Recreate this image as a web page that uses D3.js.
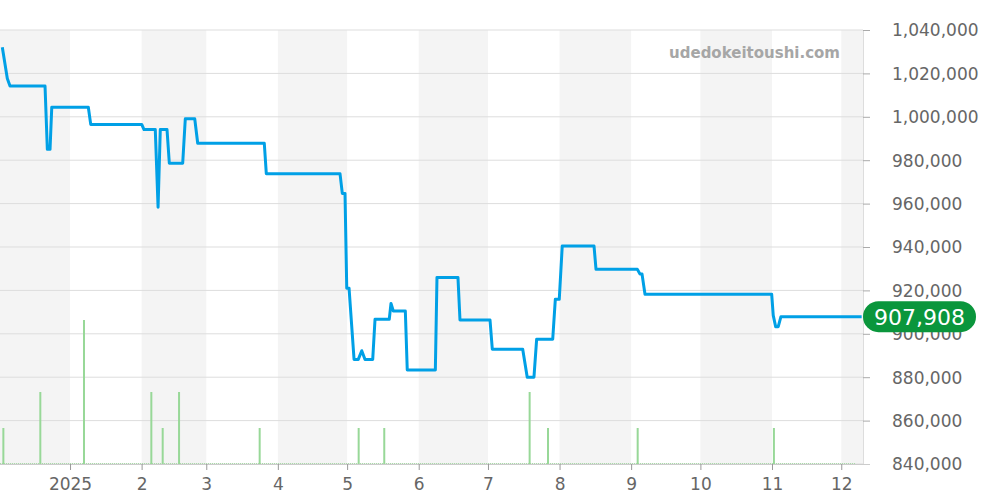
<!DOCTYPE html>
<html><head><meta charset="utf-8">
<script src="https://cdn.jsdelivr.net/npm/d3@7"></script>
<style>body{margin:0;background:#fff}svg{display:block;font-family:"DejaVu Sans",sans-serif}</style>
</head><body><svg id="c" width="1000" height="500"></svg>
<script>
// price series (date-hour, price JPY)
const priceDates = ["2024-12-02T16","2024-12-04T20","2024-12-06T00","2024-12-21T04","2024-12-22T04","2024-12-23T08","2024-12-24T02","2025-01-08T22","2025-01-09T23","2025-02-01T01","2025-02-02T01","2025-02-06T22","2025-02-08T03","2025-02-09T02","2025-02-12T00","2025-02-13T00","2025-02-18T19","2025-02-19T22","2025-02-24T00","2025-02-25T07","2025-03-26T03","2025-03-27T00","2025-04-27T22","2025-04-28T22","2025-04-30T02","2025-04-30T20","2025-05-01T20","2025-05-04T00","2025-05-05T20","2025-05-07T08","2025-05-08T18","2025-05-12T02","2025-05-13T02","2025-05-19T06","2025-05-20T00","2025-05-21T00","2025-05-26T05","2025-05-27T01","2025-06-08T05","2025-06-08T22","2025-06-18T00","2025-06-18T21","2025-07-01T21","2025-07-02T21","2025-07-16T01","2025-07-18T00","2025-07-20T22","2025-07-22T02","2025-07-29T01","2025-07-30T04","2025-07-31T21","2025-08-02T04","2025-08-15T22","2025-08-16T19","2025-09-03T16","2025-09-04T20","2025-09-05T17","2025-09-07T00","2025-10-31T21","2025-11-01T13","2025-11-02T14","2025-11-03T17","2025-11-04T21","2025-12-09T20"];
const priceValues = [1032000,1017700,1014200,1014200,985000,985000,1004400,1004400,996500,996500,994100,994100,958300,994100,994100,978600,978600,999100,999100,987800,987800,973800,973800,964700,964700,921000,921000,888200,888200,892200,888200,888200,906700,906700,914000,910500,910500,883300,883300,926000,926000,906400,906400,892900,892900,880000,880000,897500,897500,915900,915900,940500,940500,929700,929700,927600,927600,918200,918200,908500,903300,903300,907908,907908];
// listing counts
const volDates = ["2024-12-03T03","2024-12-19T03","2025-01-07T01","2025-02-05T05","2025-02-10T03","2025-02-17T05","2025-03-24T03","2025-05-06T00","2025-05-17T02","2025-07-19T01","2025-07-27T00","2025-09-03T20","2025-11-01T20"];
const volValues = [1,2,4,2,1,2,1,1,1,2,1,1,1];
const yTicks = [840000,860000,880000,900000,920000,940000,960000,980000,1000000,1020000,1040000];
const monthTicks = ["2025-01-01T00","2025-02-01T00","2025-03-01T00","2025-04-01T00","2025-05-01T00","2025-06-01T00","2025-07-01T00","2025-08-01T00","2025-09-01T00","2025-10-01T00","2025-11-01T00","2025-12-01T00"];
const monthLabels = ["2025","2","3","4","5","6","7","8","9","10","11","12"];
const lastPrice = 907908;

const parse = d3.timeParse("%Y-%m-%dT%H");
const FONT = "'DejaVu Sans', sans-serif";
const svg = d3.select("#c");
const L = 0, R = 863, T = 30, B = 464;
const x = d3.scaleTime().domain([new Date(2024,11,1,16), new Date(2025,11,10,10)]).range([L, R]);
const y = d3.scaleLinear().domain([840000, 1040000]).range([B, T]);
const yv = d3.scaleLinear().domain([0, 4]).range([B, B - 144]);

// alternating month bands
const bandStarts = [new Date(2024,11,1),new Date(2025,1,1),new Date(2025,3,1),new Date(2025,5,1),new Date(2025,7,1),new Date(2025,9,1),new Date(2025,11,1)];
svg.append("g").selectAll("rect").data(bandStarts).join("rect")
  .attr("x", d => Math.max(L, x(d)))
  .attr("width", d => Math.min(R, x(d3.timeMonth.offset(d,1))) - Math.max(L, x(d)))
  .attr("y", T).attr("height", B - T).attr("fill", "#f4f4f4");

// gridlines
svg.append("g").selectAll("line").data(yTicks).join("line")
  .attr("x1", L).attr("x2", R).attr("y1", d => y(d)).attr("y2", d => y(d))
  .attr("stroke", "#dddddd").attr("stroke-width", 1);

// right axis
const yAxis = d3.axisRight(y).tickValues(yTicks).tickSize(7).tickPadding(22).tickFormat(d3.format(","));
const ya = svg.append("g").attr("transform", `translate(${R},0)`).call(yAxis)
  .attr("font-family", FONT).attr("font-size", 17);
ya.select(".domain").attr("stroke", "#dddddd");
ya.selectAll(".tick line").attr("stroke", "#aaaaaa");
ya.selectAll("text").attr("fill", "#666").attr("dy", "0.35em");

// bottom axis
const xAxis = d3.axisBottom(x).tickValues(monthTicks.map(parse)).tickSize(6).tickPadding(8).tickFormat((d,i) => monthLabels[i]);
const xa = svg.append("g").attr("transform", `translate(0,${B})`).call(xAxis)
  .attr("font-family", FONT).attr("font-size", 17);
xa.select(".domain").attr("stroke", "#cccccc").attr("d", `M${L},0.5H${R+7}`);
xa.selectAll(".tick line").attr("stroke", "#999");
xa.selectAll("text").attr("fill", "#666");

// baseline volume dots
svg.append("line").attr("x1", L).attr("x2", x(new Date(2025,11,7))).attr("y1", B-0.5).attr("y2", B-0.5)
  .attr("stroke", "#a8dca8").attr("stroke-width", 1).attr("stroke-dasharray", "1,1");

// volume bars
svg.append("g").selectAll("rect").data(volDates.map((d,i)=>({d:parse(d), v:volValues[i]}))).join("rect")
  .attr("x", d => x(d.d) - 1).attr("width", 2)
  .attr("y", d => yv(d.v)).attr("height", d => B - yv(d.v))
  .attr("fill", "#98d898");

// watermark
svg.append("text").attr("x", 840).attr("y", 58).attr("text-anchor", "end").attr("font-family", FONT)
  .attr("fill", "#a6a6a6").style("font-size", "15px").style("font-weight", "bold").text("udedokeitoushi.com");

// price line
const pts = priceDates.map((d,i)=>({d:parse(d), v:priceValues[i]}));
svg.append("path").datum(pts)
  .attr("d", d3.line().x(d => x(d.d)).y(d => y(d.v)))
  .attr("fill", "none").attr("stroke", "#00a0e6").attr("stroke-width", 3).attr("stroke-linejoin", "round");

// last price label
const ly = y(lastPrice);
svg.append("rect").attr("x", R).attr("y", ly - 15.5).attr("width", 113).attr("height", 31).attr("rx", 15.5)
  .attr("fill", "#0a963c");
svg.append("text").attr("x", R + 56.5).attr("y", ly).attr("dy", "0.36em").attr("text-anchor", "middle").attr("font-family", FONT)
  .attr("fill", "#fff").style("font-size", "22px").text(d3.format(",")(lastPrice));
</script></body></html>
